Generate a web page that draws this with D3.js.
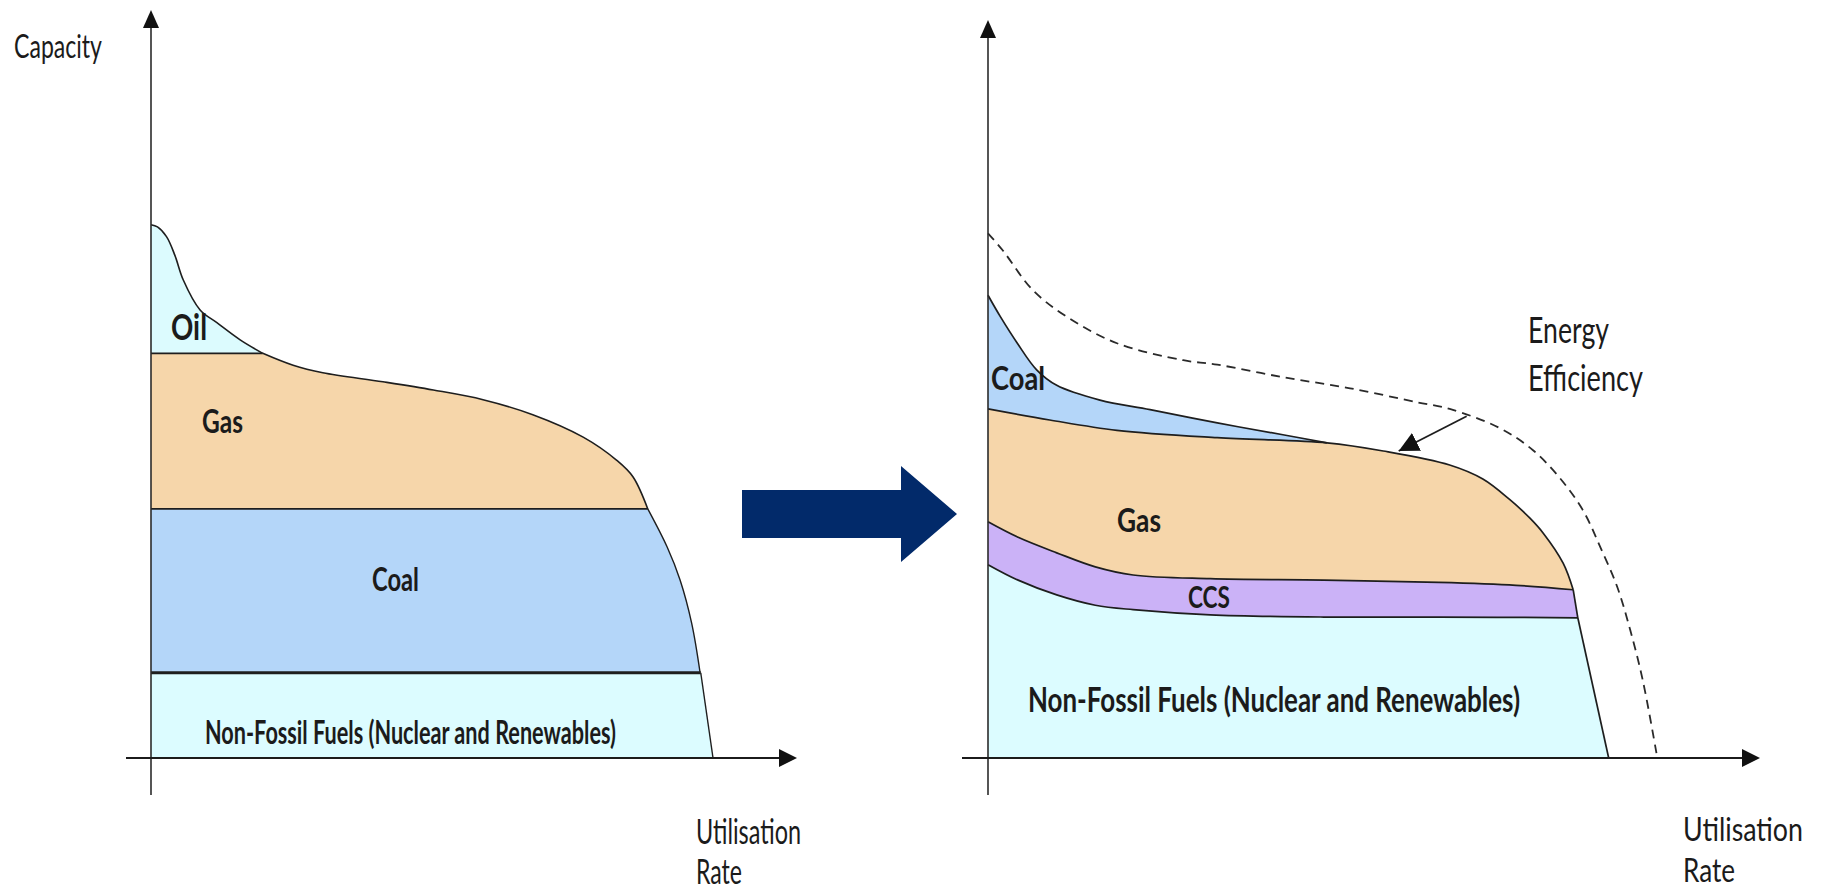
<!DOCTYPE html>
<html>
<head>
<meta charset="utf-8">
<script src="https://cdn.jsdelivr.net/npm/d3@7/dist/d3.min.js"></script>
<style>
  body { margin: 0; background: #fff; }
  text { font-family: Lato, "Open Sans", sans-serif; fill: #1b1b1b; }
</style>
</head>
<body>
<div id="chart"></div>
<script>
// data: [utilisation %, capacity %] along each boundary

// left panel - today's mix
const leftOilTop = [[0, 71.3], [1, 71.0], [2.4, 69.7], [3.7, 67.2], [5, 63.9], [7.6, 59.9], [10.2, 58.2], [13.8, 55.9], [17.3, 54.1]];
const leftGasTop = [[17.3, 54.1], [22, 52.5], [26.6, 51.5], [35.9, 50.3], [43.7, 49.2], [51.4, 47.9], [59.1, 45.9], [66.9, 42.9], [72.1, 39.8], [74.6, 37.6], [76.9, 33.3]];
const leftCoalEdge = [[76.9, 33.3], [79.9, 28.2], [81.9, 23.8], [83.7, 18.0], [85.0, 11.4]];
const leftNonFossilEdge = [[85.1, 11.4], [87.0, 0]];
const leftLevels = {oil: 54.1, gas: 33.3, coal: 11.4};

// right panel - future mix
const rightEfficiency = [[0, 71.1], [1.9, 68.8], [5.8, 63.4], [10.2, 59.8], [16.7, 56.2], [25.3, 53.9], [29.7, 53.3], [38.2, 51.6], [46.9, 50.1], [55.6, 48.2], [59.8, 47.3], [66.3, 44.7], [70.6, 41.7], [74.1, 37.9], [77.1, 33.5], [79.3, 28.6], [81.5, 23.2], [83.2, 17.3], [84.8, 10.6], [86.7, 0]];
const rightCoalTop = [[0, 62.7], [1.6, 59.8], [3.8, 56.2], [6.3, 52.6], [8.9, 50.5], [14.5, 48.5], [21, 47.2], [29.7, 45.4], [38.2, 43.8], [43.9, 42.7]];
const rightGasTop = [[0, 47.3], [8, 45.8], [16.7, 44.4], [29.7, 43.4], [43.9, 42.7], [51.2, 41.6], [59.8, 39.7], [64.1, 37.8], [67.6, 35.0], [70.2, 32.5], [71.9, 30.5], [74.5, 26.4], [75.8, 22.8]];
const rightGasCcs = [[0, 32.0], [3.9, 29.9], [8.9, 27.8], [13.9, 25.9], [18.8, 24.8], [28.8, 24.3], [43.5, 24.1], [58.4, 23.8], [68.4, 23.4], [75.8, 22.8]];
const rightCcsEdge = [[75.8, 22.8], [76.4, 19.0]];
const rightCcsBottom = [[0, 26.2], [3.9, 24.1], [8.9, 22.1], [13.9, 20.7], [18.8, 20.1], [28.8, 19.4], [43.5, 19.1], [58.4, 19.1], [76.4, 19.0]];
const rightNonFossilEdge = [[76.4, 19.0], [80.4, 0]];
const effArrow = [[62.0, 46.3], [53.2, 41.6]];

const colors = {oil: '#dcfbfe', gas: '#f6d6aa', coal: '#b4d6f9', ccs: '#cbb2f7', nonFossil: '#dcfcff', arrow: '#022a6a'};

const W = 1827, H = 894;
const svg = d3.select('#chart').append('svg')
    .attr('width', W)
    .attr('height', H);

const defs = svg.append('defs');
defs.append('marker')
    .attr('id', 'tip')
    .attr('markerUnits', 'userSpaceOnUse')
    .attr('markerWidth', 22).attr('markerHeight', 20)
    .attr('refX', 20).attr('refY', 10)
    .attr('orient', 'auto')
  .append('path')
    .attr('d', 'M0,0 L20,10 L0,20 Z')
    .attr('fill', '#111');

// scales for both panels
const xL = d3.scaleLinear().domain([0, 100]).range([151, 797]);
const yL = d3.scaleLinear().domain([0, 100]).range([758, 10]);
const xR = d3.scaleLinear().domain([0, 100]).range([988, 1760]);
const yR = d3.scaleLinear().domain([0, 100]).range([758, 20]);

// join curved / straight pieces into one closed path
function buildPath(x, y, parts) {
    return parts.map((p, i) => {
        const gen = d3.line().x(d => x(d[0])).y(d => y(d[1]))
            .curve(p.smooth ? d3.curveCatmullRom.alpha(0.5) : d3.curveLinear);
        const s = gen(p.pts);
        return i ? 'L' + s.slice(1) : s;
    }).join('') + 'Z';
}
function linePath(x, y, pts, smooth) {
    return d3.line().x(d => x(d[0])).y(d => y(d[1]))
        .curve(smooth ? d3.curveCatmullRom.alpha(0.5) : d3.curveLinear)(pts);
}
const rev = a => a.slice().reverse();

// ---------- left panel ----------
const gL = svg.append('g');
const lv = leftLevels;
const leftAreas = [
    {fill: colors.nonFossil, parts: [{pts: [[0, 0], [0, lv.coal], [85.1, lv.coal], [87, 0]]}]},
    {fill: colors.coal, parts: [{pts: [[0, lv.gas], [76.9, lv.gas]]}, {pts: leftCoalEdge, smooth: true}, {pts: [[85.0, lv.coal], [0, lv.coal]]}]},
    {fill: colors.gas, parts: [{pts: [[0, lv.oil], [17.3, lv.oil]]}, {pts: leftGasTop, smooth: true}, {pts: [[76.9, lv.gas], [0, lv.gas]]}]},
    {fill: colors.oil, parts: [{pts: leftOilTop, smooth: true}, {pts: [[17.3, lv.oil], [0, lv.oil]]}]}
];
gL.selectAll('path.area')
    .data(leftAreas)
    .join('path')
        .attr('class', 'area')
        .attr('d', d => buildPath(xL, yL, d.parts))
        .attr('fill', d => d.fill);

const leftLines = [
    {pts: leftOilTop, smooth: true, w: 1.6},
    {pts: leftGasTop, smooth: true, w: 1.6},
    {pts: leftCoalEdge, smooth: true, w: 1.4},
    {pts: leftNonFossilEdge, w: 1.4},
    {pts: [[0, lv.oil], [17.3, lv.oil]], w: 1.6},
    {pts: [[0, lv.gas], [76.9, lv.gas]], w: 1.8},
    {pts: [[0, lv.coal], [85.1, lv.coal]], w: 3.2}
];
gL.selectAll('path.edge')
    .data(leftLines)
    .join('path')
        .attr('class', 'edge')
        .attr('d', d => linePath(xL, yL, d.pts, d.smooth))
        .attr('fill', 'none')
        .attr('stroke', '#1e1e1e')
        .attr('stroke-width', d => d.w);

// ---------- right panel ----------
const gR = svg.append('g');
const coalBase = rightGasTop.filter(d => d[0] <= 43.9);
const rightAreas = [
    {fill: colors.nonFossil, parts: [{pts: rightCcsBottom, smooth: true}, {pts: rightNonFossilEdge}, {pts: [[80.4, 0], [0, 0]]}]},
    {fill: colors.ccs, parts: [{pts: rightGasCcs, smooth: true}, {pts: rightCcsEdge}, {pts: rev(rightCcsBottom), smooth: true}]},
    {fill: colors.gas, parts: [{pts: rightGasTop, smooth: true}, {pts: rev(rightGasCcs), smooth: true}]},
    {fill: colors.coal, parts: [{pts: rightCoalTop, smooth: true}, {pts: rev(coalBase), smooth: true}]}
];
gR.selectAll('path.area')
    .data(rightAreas)
    .join('path')
        .attr('class', 'area')
        .attr('d', d => buildPath(xR, yR, d.parts))
        .attr('fill', d => d.fill);

const rightLines = [
    {pts: rightCoalTop, smooth: true},
    {pts: rightGasTop, smooth: true},
    {pts: rightGasCcs, smooth: true},
    {pts: rightCcsBottom, smooth: true},
    {pts: rightCcsEdge},
    {pts: rightNonFossilEdge}
];
gR.selectAll('path.edge')
    .data(rightLines)
    .join('path')
        .attr('class', 'edge')
        .attr('d', d => linePath(xR, yR, d.pts, d.smooth))
        .attr('fill', 'none')
        .attr('stroke', '#1e1e1e')
        .attr('stroke-width', 1.7);

// energy efficiency envelope
gR.append('path')
    .attr('d', linePath(xR, yR, rightEfficiency, true))
    .attr('fill', 'none')
    .attr('stroke', '#2a2a2a')
    .attr('stroke-width', 1.8)
    .attr('stroke-dasharray', '9,6');

gR.append('path')
    .attr('d', linePath(xR, yR, effArrow, false))
    .attr('fill', 'none')
    .attr('stroke', '#1e1e1e')
    .attr('stroke-width', 1.8)
    .attr('marker-end', 'url(#tip)');

// ---------- axes ----------
function drawAxes(g, x, y, x0) {
    const ox = x(0), oy = y(0), tx = x(100), ty = y(100);
    g.append('line')
        .attr('x1', ox).attr('x2', ox).attr('y1', oy + 37).attr('y2', ty + 14)
        .attr('stroke', '#2b2b2b').attr('stroke-width', 1.6);
    g.append('line')
        .attr('x1', x0).attr('x2', tx - 14).attr('y1', oy).attr('y2', oy)
        .attr('stroke', '#1b1b1b').attr('stroke-width', 2.2);
    g.append('path')
        .attr('d', `M${ox},${ty} L${ox - 8},${ty + 18} L${ox + 8},${ty + 18} Z`)
        .attr('fill', '#111');
    g.append('path')
        .attr('d', `M${tx},${oy} L${tx - 18},${oy - 9} L${tx - 18},${oy + 9} Z`)
        .attr('fill', '#111');
}
drawAxes(gL, xL, yL, 126);
drawAxes(gR, xR, yR, 962);

// transition arrow between the panels
svg.append('path')
    .attr('d', 'M742,490 L901,490 L901,466 L957,514 L901,562 L901,538 L742,538 Z')
    .attr('fill', colors.arrow);

// ---------- labels ----------
const labels = [
    {t: 'Capacity', x: 14, y: 58, s: 32, len: 88},
    {t: 'Oil', x: 171, y: 340, s: 36, len: 36, b: true},
    {t: 'Gas', x: 202, y: 433, s: 33, len: 41, b: true},
    {t: 'Coal', x: 372, y: 591, s: 33, len: 47, b: true},
    {t: 'Non-Fossil Fuels (Nuclear and Renewables)', x: 205, y: 744, s: 32, len: 411, b: true},
    {t: 'Utilisation', x: 696, y: 844, s: 34, len: 105},
    {t: 'Rate', x: 696, y: 884, s: 34, len: 46},
    {t: 'Coal', x: 991, y: 390, s: 33, len: 54, b: true},
    {t: 'Gas', x: 1117, y: 532, s: 33, len: 44, b: true},
    {t: 'CCS', x: 1188, y: 608, s: 31, len: 42, b: true},
    {t: 'Non-Fossil Fuels (Nuclear and Renewables)', x: 1028, y: 712, s: 34, len: 492, b: true},
    {t: 'Energy', x: 1528, y: 343, s: 36, len: 81},
    {t: 'Efficiency', x: 1528, y: 391, s: 36, len: 115},
    {t: 'Utilisation', x: 1683, y: 841, s: 32, len: 120},
    {t: 'Rate', x: 1683, y: 882, s: 32, len: 52}
];
svg.selectAll('text.lbl')
    .data(labels)
    .join('text')
        .attr('class', 'lbl')
        .attr('x', d => d.x)
        .attr('y', d => d.y)
        .attr('font-size', d => d.s)
        .attr('font-weight', d => d.b ? 700 : 400)
        .attr('textLength', d => d.len)
        .attr('lengthAdjust', 'spacingAndGlyphs')
        .text(d => d.t);
</script>
</body>
</html>
